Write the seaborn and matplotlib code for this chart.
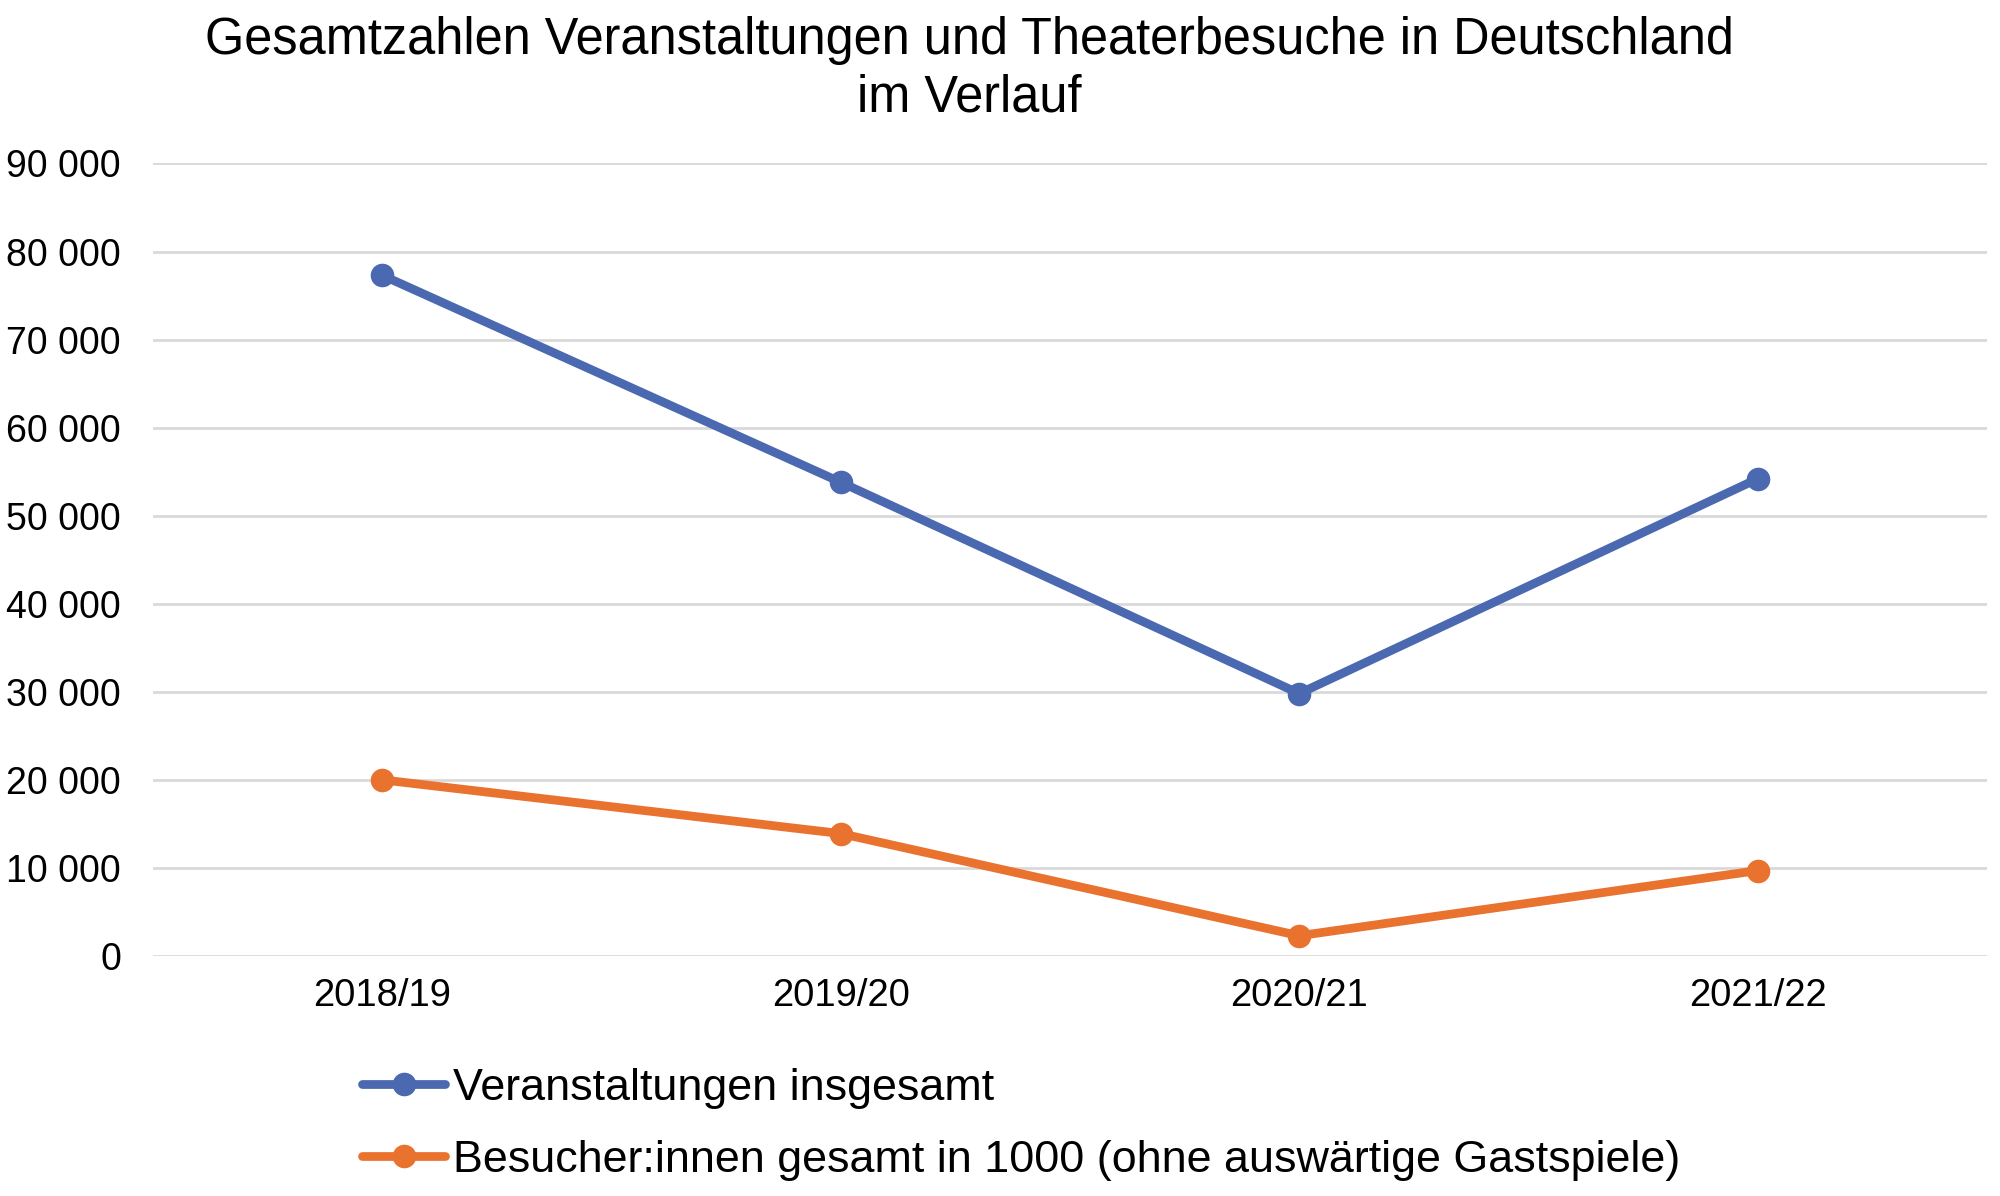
import seaborn as sns
import matplotlib.pyplot as plt
import matplotlib.ticker as mticker
import pandas as pd

seasons = ['2018/19', '2019/20', '2020/21', '2021/22']
veranstaltungen = [77300, 53800, 29800, 54200]
besucher = [20000, 13900, 2300, 9700]
labels = ['Veranstaltungen insgesamt',
          'Besucher:innen gesamt in 1000 (ohne auswärtige Gastspiele)']
colors = ['#4A69B1', '#EA722F']

df = pd.DataFrame({'Saison': seasons * 2,
                   'Wert': veranstaltungen + besucher,
                   'Reihe': [labels[0]] * 4 + [labels[1]] * 4})

sns.set_style('white')
plt.rcParams['font.family'] = ['Liberation Sans', 'DejaVu Sans']
plt.rcParams['text.color'] = 'black'
plt.rcParams['xtick.color'] = 'black'
plt.rcParams['ytick.color'] = 'black'

fig = plt.figure(figsize=(20, 11.96), dpi=100)
ax = fig.add_axes([0.0765, 0.2007, 0.917, 0.6626])

sns.lineplot(data=df, x='Saison', y='Wert', hue='Reihe', palette=colors,
             marker='o', markersize=17, markeredgewidth=0, linewidth=6.3,
             sort=False, ax=ax, legend=False)

ax.set_xlim(-0.5, 3.5)
ax.set_ylim(0, 90000)
ax.yaxis.set_major_locator(mticker.MultipleLocator(10000))
ax.yaxis.set_major_formatter(mticker.FuncFormatter(lambda v, p: f'{int(v):,}'.replace(',', ' ')))
ax.grid(axis='y', color='#D9D9D9', linewidth=2)
ax.set_axisbelow(True)
for s in ax.spines.values():
    s.set_visible(False)
ax.tick_params(axis='y', length=0, pad=23, labelsize=27)
ax.tick_params(axis='x', length=0, pad=16, labelsize=27.5)
ax.set_xlabel('')
ax.set_ylabel('')

fig.text(0.4845, 0.9867, 'Gesamtzahlen Veranstaltungen und Theaterbesuche in Deutschland\nim Verlauf',
         ha='center', va='top', fontsize=36.4, linespacing=1.23)

handles = [plt.Line2D([], [], color=c, marker='o', markersize=17, markeredgewidth=0, linewidth=6.3)
           for c in colors]
fig.legend(handles, labels, loc='upper left', bbox_to_anchor=(0.172, 0.122),
           bbox_transform=fig.transFigure, frameon=False, handlelength=1.86,
           handletextpad=0.18, labelspacing=0.69, prop={'size': 32.3},
           borderaxespad=0)

fig.savefig('out.png', dpi=100)
